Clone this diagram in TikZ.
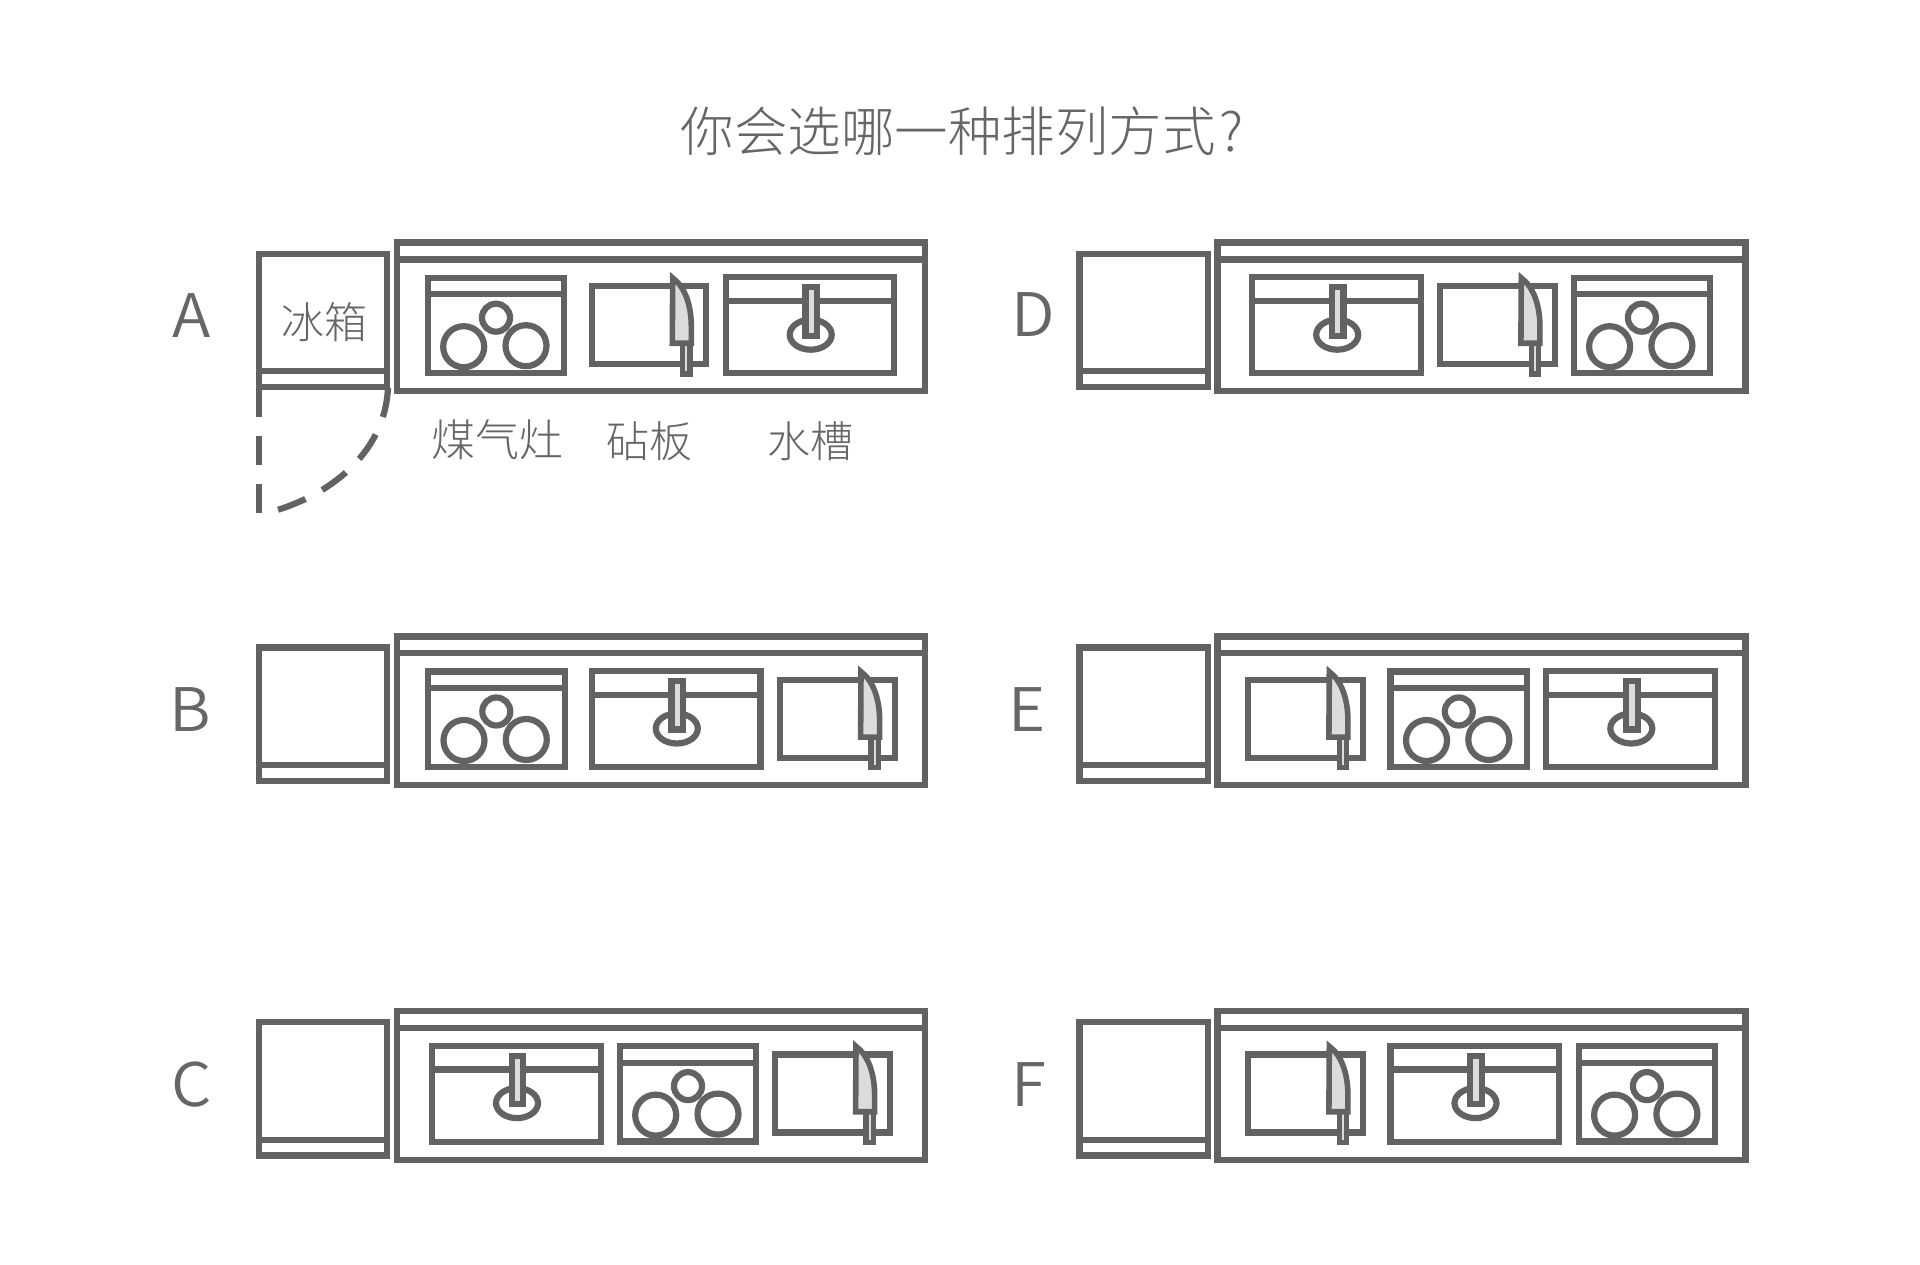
\documentclass[tikz,border=0pt]{standalone}
\usepackage{fontspec}
\setmainfont{Noto Sans CJK SC}[UprightFont=* Light]
\newfontfamily\letterfont{Noto Sans CJK SC}[UprightFont=* DemiLight,FakeStretch=1.06]
\definecolor{ink}{HTML}{626262}
\definecolor{txt}{HTML}{666666}
\definecolor{steel}{HTML}{DCDCDC}
\tikzset{
  ln/.style={draw=ink,line width=6.2pt,line join=miter,miter limit=20},
  dashln/.style={draw=ink,line width=6.2pt,dash pattern=on 29.5pt off 19pt},
  handle ln/.style={draw=ink,line width=5.5pt,line join=miter},
  blade ln/.style={draw=ink,line width=5.6pt,line join=miter,miter limit=20},
  lab/.style={text=txt,inner sep=0pt,font=\fontsize{43}{43}\selectfont},
  letter/.style={text=txt,inner sep=0pt,anchor=base,font=\letterfont\fontsize{60}{60}\selectfont},
  unitpic/.pic={
    \draw[ln] (259,253.7) rectangle (387.3,387);
    \draw[ln] (259,371.3) -- (387.3,371.3);
    \draw[ln] (397,242.6) rectangle (925,391.3);
    \draw[ln] (397,259.5) -- (925,259.5);
  },
  stovepic/.pic={
    \draw[ln] (0,277.7) rectangle (136.6,373);
    \draw[ln] (0,294.3) -- (136.6,294.3);
    \draw[ln] (68.3,317.7) circle (14);
    \draw[ln] (36,346.7) circle (20.5);
    \draw[ln] (98.3,345.7) circle (20.5);
  },
  sinkpic/.pic={
    \draw[ln] (0,277.3) rectangle (168.6,373.3);
    \draw[ln] (0,301) -- (168.6,301);
    \draw[ln,fill=white] (85,334.7) ellipse (21 and 15);
    \draw[ln,fill=steel] (79.7,287.3) rectangle (91.3,335.7);
  },
  boardpic/.pic={
    \draw[ln] (0,286) rectangle (114.6,364);
    \draw[handle ln,fill=steel] (91,343.3) rectangle (98.3,373.9);
    \draw[blade ln,fill=steel] (81,278) -- (80.6,343.3) -- (99.6,343.3) -- (99.6,325)
      .. controls (99.3,305) and (93.3,287) .. cycle;
  },
}
\begin{document}
\begin{tikzpicture}[x=1pt,y=-1pt]
\useasboundingbox (0,0) rectangle (1920,1265);
\fill[white] (0,0) rectangle (1920,1265);

\node[text=txt,inner sep=0pt,font=\fontsize{53.5}{53.5}\selectfont] (title) at (962.5,131) {你会选哪一种排列方式\hspace{4pt}?};

% row A
\pic at (0,0) {unitpic};
\pic at (427.7,0) {stovepic};
\pic at (591.7,0) {boardpic};
\pic at (725.7,0) {sinkpic};
\node[letter] (la) at (191.7,337.3) {A};
\node[lab] (fridge) at (324.5,322) {冰箱};
\node[lab,font=\fontsize{44}{44}\selectfont] (stove) at (497,440) {煤气灶};
\node[lab] (board) at (649.3,441) {砧板};
\node[lab] (sink) at (810.7,441) {水槽};
\coordinate (hinge) at (259,387);
\coordinate (doorend) at (259,513);
\coordinate (arcstart) at (388,388);
\coordinate (arcend) at (277.3,510);
\draw[dashln] (hinge) -- (doorend);
\draw[dashln] (arcstart) .. controls (385,450) and (335,492) .. (arcend);

% row B
\pic at (0,393.8) {unitpic};
\pic at (428,393.8) {stovepic};
\pic at (591.8,393.8) {sinkpic};
\pic at (780,393.8) {boardpic};
\node[letter] (lb) at (190,731.7) {B};

% row C
\pic at (0,768.4) {unitpic};
\pic at (432,768.4) {sinkpic};
\pic at (619.7,768.4) {stovepic};
\pic at (775,768.4) {boardpic};
\node[letter] (lc) at (191.5,1106) {C};

% row D
\pic at (820.5,0) {unitpic};
\pic at (1252.2,0) {sinkpic};
\pic at (1440.3,0) {boardpic};
\pic at (1573.6,0) {stovepic};
\node[letter] (ld) at (1033,337) {D};

% row E
\pic at (820.5,393.8) {unitpic};
\pic at (1248.3,393.8) {boardpic};
\pic at (1390.5,393.8) {stovepic};
\pic at (1546.3,393.8) {sinkpic};
\node[letter] (le) at (1027,731.7) {E};

% row F
\pic at (820.5,768.4) {unitpic};
\pic at (1248.3,768.4) {boardpic};
\pic at (1390.5,768.4) {sinkpic};
\pic at (1578.6,768.4) {stovepic};
\node[letter] (lf) at (1028.5,1106) {F};
\end{tikzpicture}
\end{document}
